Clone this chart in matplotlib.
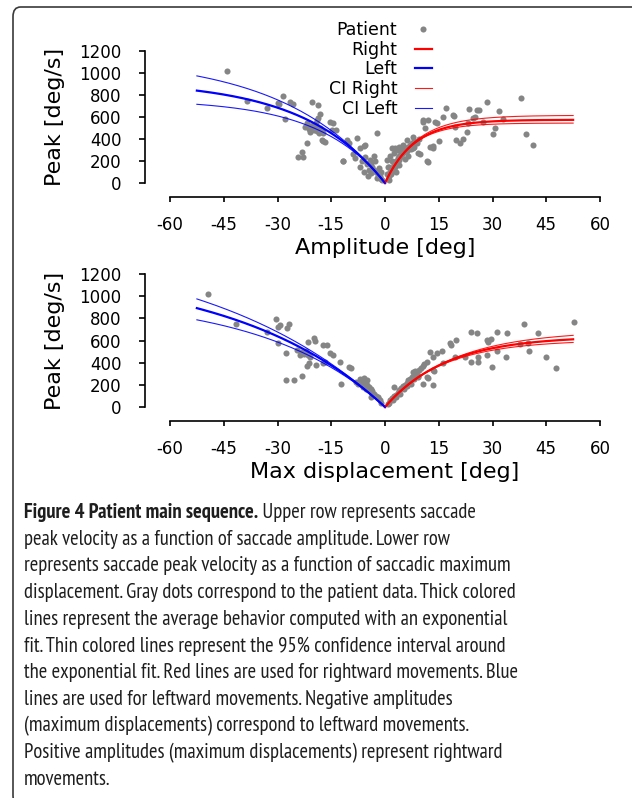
import numpy as np
import matplotlib
matplotlib.use("Agg")
import matplotlib.pyplot as plt
from matplotlib.patches import FancyBboxPatch

plt.rcParams['axes.unicode_minus'] = False
plt.rcParams['font.family'] = ['DejaVu Sans']

# ---------------- data ----------------
amp_x = [-44.1, -38.6, -33.0, -29.5, -28.6, -29.8, -26.5, -25.6, -27.9, -20.5, -18.8, -18.1, -18.6, -19.1,
         -21.9, -21.0, -20.5, -19.8, -19.0, -18.5, -20.0, -21.2, -19.5, -17.5, -18.2, -22.3, -20.8, -17.3, -19.2,
         -15.3, -14.6, -14.9, -13.7, -17.7, -16.7, -17.2, -21.9, -24.2, -22.8, -23.3, -11.6, -10.7, -10.0, -7.9,
         -6.0, -5.5, -7.0, -2.3, -7.0, -5.6, -11.8,
         -4.2, -4.0, -3.5, -3.0, -2.5, -2.0, -1.5, -1.0, -3.8, -2.8, -1.8, -4.5, -5.0, -3.2, -6.5, -8.5, -9.0,
         -1.2, -0.8, -2.2, -6.0, -4.8,
         10.7, 11.2, 12.1, 9.8, 7.9, 12.6, 13.5, 15.2, 14.0, 14.4, 16.3, 17.0, 18.9, 19.3, 19.8, 20.9, 21.7,
         19.5, 23.0, 23.5, 24.6, 25.1, 25.6, 26.3, 23.3, 27.4, 28.6, 30.7, 30.2, 31.9, 32.8, 37.9, 39.3, 41.4,
         12.1, 10.7, 9.3, 1.9, 3.7, 5.1, 2.8, 5.1, 6.0, 0.5, 0.9, 11.8, 13.3,
         1.0, 1.5, 2.0, 2.5, 3.0, 3.5, 4.0, 4.5, 5.0, 5.5, 6.0, 6.5, 7.0, 7.5, 8.0, 1.2, 1.8, 2.2, 2.8, 3.2,
         3.8, 4.2, 4.8, 5.2, 6.2, 7.2, 8.2, 3.0, 4.0, 2.0, 1.0, 0.5, 6.5, 5.5, 8.8, 9.5, 7.8, 4.0, 1.5, 2.5]
amp_y = [1018, 745, 679, 715, 788, 725, 739, 715, 579, 733, 709, 624, 588, 573,
         545, 520, 500, 480, 470, 455, 530, 490, 510, 470, 500, 505, 465, 455, 545,
         557, 543, 482, 482, 391, 375, 385, 361, 239, 239, 279, 203, 391, 366, 412,
         336, 345, 148, 457, 315, 239, 200,
         209, 180, 150, 120, 100, 80, 60, 40, 90, 200, 140, 120, 170, 250, 200, 230, 260,
         100, 30, 50, 100, 60,
         573, 497, 194, 264, 315, 324, 336, 385, 557, 543, 603, 679, 618, 609, 391, 361, 397,
         512, 466, 670, 588, 603, 664, 664, 548, 557, 739, 497, 445, 657, 579, 770, 445, 345,
         573, 557, 270, 315, 300, 345, 315, 324, 391, 209, 148, 200, 315,
         60, 100, 140, 170, 200, 230, 250, 270, 290, 300, 320, 330, 350, 360, 380, 30, 80, 120, 150, 180,
         210, 240, 260, 280, 290, 310, 330, 100, 160, 200, 150, 80, 250, 220, 360, 400, 420, 330, 250, 270]

disp_x = [-49.3, -41.6, -30.4, -29.8, -29.3, -26.7, -27.4, -33.0, -29.9, -27.6, -27.6, -25.4, -23.1, -21.4,
          -19.8, -19.5, -24.6, -23.5, -22.5, -21.5, -20.9, -23.8, -22.0, -21.9, -21.1, -19.3, -17.2, -16.3,
          -17.4, -16.7, -15.3, -14.6, -12.6, -12.3, -10.0, -9.5, -6.0, -5.1, -1.9,
          -7.0, -6.5, -5.5, -5.0, -4.5, -4.0, -3.5, -3.0, -2.5, -2.0, -1.5, -1.0, -6.2, -5.2, -4.2, -3.2,
          -7.5, -8.0, -3.8,
          52.7, 38.8, 42.8, 44.9, 47.6, 37.7, 40.0, 40.2, 34.0, 31.3, 33.8, 29.8, 31.2, 28.4, 29.6, 28.8,
          23.9, 25.6, 28.4, 25.9, 24.0, 25.9, 22.3, 19.8, 18.1, 18.3, 19.5, 16.0, 14.6, 16.1, 12.6, 13.5,
          11.6, 13.3, 13.7, 11.8, 10.7, 13.5, 12.1, 9.3, 8.4, 7.9, 2.5,
          1.5, 2.0, 2.5, 3.0, 3.5, 4.0, 4.5, 5.0, 5.5, 6.0, 6.5, 7.0, 7.5, 8.0, 8.5, 9.0, 9.5, 10.0, 10.5,
          11.0, 2.2, 3.2, 4.2, 5.2, 6.2, 7.2, 8.2, 9.2, 0.8, 1.0]
disp_y = [1017, 749, 791, 725, 740, 746, 710, 680, 580, 490, 244, 244, 282, 589,
          620, 598, 514, 500, 480, 470, 454, 470, 505, 370, 394, 379, 560, 560,
          394, 409, 485, 469, 409, 205, 358, 349, 259, 244, 93,
          250, 230, 210, 200, 180, 160, 140, 120, 100, 80, 60, 40, 180, 160, 140, 110,
          210, 230, 90,
          770, 746, 665, 448, 355, 566, 580, 508, 665, 674, 448, 358, 508, 605, 614, 589,
          680, 668, 469, 454, 403, 403, 454, 605, 575, 560, 454, 508, 484, 394, 499, 449,
          409, 334, 325, 273, 208, 199, 259, 268, 328, 319, 183,
          60, 80, 100, 110, 130, 150, 170, 190, 200, 220, 240, 250, 270, 290, 300, 320, 330, 350, 370,
          390, 60, 90, 120, 160, 190, 210, 250, 280, 30, 40]

# exponential fits V = Vmax * (1 - exp(-|A| / C)); (Vmax, C) for fit, CI upper, CI lower
fit_range = 52.5
amp_right = [(575, 8.2), (615, 8.8), (545, 7.6)]
amp_left = [(930, 22.5), (1150, 28.0), (760, 18.5)]
disp_right = [(640, 17.0), (690, 19.0), (605, 16.0)]
disp_left = [(1250, 42.0), (1500, 50.0), (1000, 34.0)]

x_ticks = [-60, -45, -30, -15, 0, 15, 30, 45, 60]
y_ticks = [0, 200, 400, 600, 800, 1000, 1200]

W, H = 632, 798
fig = plt.figure(figsize=(W / 100, H / 100), dpi=100)

# frame
frame = FancyBboxPatch((13 / W, 1 - 805 / H), 640 / W, 798 / H, boxstyle="round,pad=0,rounding_size=0.012",
                       transform=fig.transFigure, fill=False, edgecolor='#3a3a3a', lw=1.2, clip_on=False)
fig.patches.append(frame)


def make_axes(top_px, bottom_px):
    ax = fig.add_axes([170 / W, 1 - bottom_px / H, 430 / W, (bottom_px - top_px) / H])
    ax.set_xlim(-60, 60)
    ax.set_ylim(0, 1200)
    for s in ['top', 'right']:
        ax.spines[s].set_visible(False)
    ax.spines['left'].set_position(('outward', 18))
    ax.spines['bottom'].set_position(('outward', 10))
    ax.spines['left'].set_bounds(0, 1200)
    ax.spines['bottom'].set_bounds(-60, 60)
    for s in ['left', 'bottom']:
        ax.spines[s].set_linewidth(1.2)
    ax.set_xticks(x_ticks)
    ax.set_yticks(y_ticks)
    ax.tick_params(axis='y', direction='out', length=4, width=1.2, pad=13, labelsize=12)
    ax.tick_params(axis='x', direction='out', length=3.5, width=1.2, pad=10, labelsize=12)
    ax.set_ylabel('Peak [deg/s]', fontsize=16, labelpad=10)
    ax.patch.set_visible(False)
    return ax


def draw(ax, xs, ys, right, left, xlabel):
    ax.plot(xs, ys, 'o', color='#858585', ms=4.4, mec='none', label='Patient', clip_on=False, zorder=2)
    a = np.linspace(0, fit_range, 200)
    vm, c = right[0]
    ax.plot(a, vm * (1 - np.exp(-a / c)), color='red', lw=1.6, label='Right', zorder=3, clip_on=False)
    vm, c = left[0]
    ax.plot(-a, vm * (1 - np.exp(-a / c)), color='blue', lw=1.6, label='Left', zorder=3, clip_on=False)
    for i, (vm, c) in enumerate(right[1:]):
        ax.plot(a, vm * (1 - np.exp(-a / c)), color='red', lw=0.8, alpha=0.9,
                label='CI Right' if i == 0 else None, zorder=3, clip_on=False)
    for i, (vm, c) in enumerate(left[1:]):
        ax.plot(-a, vm * (1 - np.exp(-a / c)), color='blue', lw=0.8, alpha=0.9,
                label='CI Left' if i == 0 else None, zorder=3, clip_on=False)
    ax.set_xlabel(xlabel, fontsize=16, labelpad=3)


ax1 = make_axes(51, 183)
draw(ax1, amp_x, amp_y, amp_right, amp_left, 'Amplitude [deg]')
ax2 = make_axes(274, 407)
draw(ax2, disp_x, disp_y, disp_right, disp_left, 'Max displacement [deg]')

leg = ax1.legend(loc='upper right', bbox_to_anchor=(432 / W, 1 - 21 / H), bbox_transform=fig.transFigure,
                 frameon=False, markerfirst=False, numpoints=1, fontsize=12.5, handlelength=1.0,
                 handletextpad=1.0, labelspacing=0.1, borderpad=0, borderaxespad=0)
for t in leg.get_texts():
    t.set_ha('right')

# caption
lines = [
    "peak velocity as a function of saccade amplitude. Lower row",
    "represents saccade peak velocity as a function of saccadic maximum",
    "displacement. Gray dots correspond to the patient data. Thick colored",
    "lines represent the average behavior computed with an exponential",
    "fit. Thin colored lines represent the 95% confidence interval around",
    "the exponential fit. Red lines are used for rightward movements. Blue",
    "lines are used for leftward movements. Negative amplitudes",
    "(maximum displacements) correspond to leftward movements.",
    "Positive amplitudes (maximum displacements) represent rightward",
    "movements.",
]
bold_part = "Figure 4 Patient main sequence."
rest_part = " Upper row represents saccade"
cap_font = ['PT Sans Narrow', 'PT Sans', 'Lato']
renderer = fig.canvas.get_renderer()
probe = fig.text(0, 0, lines[2], fontsize=13, family=cap_font)
wpx = probe.get_window_extent(renderer).width
probe.remove()
fs = 13 * 488 / wpx

x0 = 24 / W
base0 = 518
step = 26.7
tcol = '#1e1e1e'
tb = fig.text(x0, 1 - base0 / H, bold_part, fontsize=fs, family=cap_font, weight='bold',
              va='baseline', color=tcol)
bw = tb.get_window_extent(renderer).width
fig.text(x0 + bw / W, 1 - base0 / H, rest_part, fontsize=fs, family=cap_font, va='baseline', color=tcol)
for i, ln in enumerate(lines):
    fig.text(x0, 1 - (base0 + step * (i + 1)) / H, ln, fontsize=fs, family=cap_font, va='baseline',
             color=tcol)

fig.savefig('out.png', dpi=100)
